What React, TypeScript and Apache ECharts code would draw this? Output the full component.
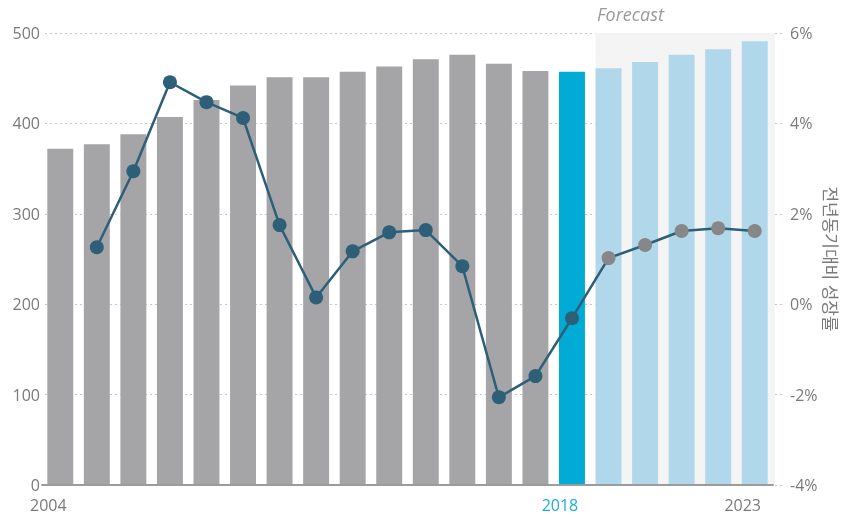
import React, { useEffect, useRef } from "react";
import * as echarts from "echarts";

const years = ["2004","2005","2006","2007","2008","2009","2010","2011","2012","2013","2014","2015","2016","2017","2018","2019","2020","2021","2022","2023"];
const volumes = [372,377,388,407,426,442,451,451,457,463,471,476,466,458,457,461,468,476,482,491];
const growth: (number | null)[] = [null,1.26,2.94,4.91,4.47,4.12,1.75,0.15,1.17,1.59,1.64,0.84,-2.06,-1.59,-0.31,1.02,1.31,1.62,1.68,1.62];
const labeledYears = ["2004", "2018", "2023"];
const highlightYear = "2018";
const forecastStart = "2019";
const forecastEnd = "2023";
const rightAxisTitle = "전년동기대비 성장률";
const forecastLabel = "Forecast";

const FONT = "'Open Sans', 'Noto Sans CJK KR', sans-serif";
const BAR_RATIO = 0.71;

export default function App() {
  const ref = useRef<HTMLDivElement>(null);
  useEffect(() => {
    if (!ref.current) return;
    const chart = echarts.init(ref.current, null, { renderer: "svg" });
    const isForecast = (y: string) => Number(y) >= Number(forecastStart);
    const barColor = (y: string) =>
      y === highlightYear ? "#00acd6" : isForecast(y) ? "#b1d8ea" : "#a5a5a7";
    chart.setOption({
      animation: false,
      grid: [
        { left: 42, right: 70, top: 33, bottom: 32, outerBoundsMode: "none", containLabel: false },
        { left: 45, right: 58, top: 33, bottom: 32, outerBoundsMode: "none", containLabel: false },
      ],
      graphic: [
        {
          type: "text",
          left: 597,
          top: 5,
          style: {
            text: forecastLabel,
            font: `italic 18px ${FONT}`,
            fill: "#9a9a9a",
          },
        },
      ],
      xAxis: [
        {
          type: "category",
          gridIndex: 0,
          data: years,
          z: 3,
          axisLine: { lineStyle: { color: "#9c9c9c", width: 2 } },
          axisTick: { show: false },
          axisLabel: {
            interval: (i: number, v: string) => labeledYears.includes(v),
            color: (v: string) => (v === highlightYear ? "#1aaedb" : "#7a7a7a"),
            fontSize: 16,
            fontFamily: FONT,
            margin: 12,
            padding: [0, 24, 0, 0],
          },
          splitLine: { show: false },
        },
        { type: "value", gridIndex: 1, show: false, min: 0, max: 1 },
      ],
      yAxis: [
        { type: "value", gridIndex: 0, min: 0, max: 500, interval: 100, show: false },
        { type: "value", gridIndex: 0, min: -4, max: 6, interval: 2, show: false },
        {
          type: "value",
          gridIndex: 1,
          min: 0,
          max: 500,
          interval: 100,
          position: "left",
          axisLine: { show: false },
          axisTick: { show: false },
          axisLabel: { color: "#7a7a7a", fontSize: 16, fontFamily: FONT, margin: 5 },
          splitLine: { lineStyle: { color: "#c8c8c8", type: [2, 3], width: 1 } },
        },
        {
          type: "value",
          gridIndex: 1,
          min: -4,
          max: 6,
          interval: 2,
          position: "right",
          axisLine: { show: false },
          axisTick: { show: false },
          splitLine: { show: false },
          axisLabel: {
            color: "#7a7a7a",
            fontSize: 16,
            fontFamily: FONT,
            margin: 5,
            formatter: "{value}%",
          },
          name: rightAxisTitle,
          nameLocation: "middle",
          nameRotate: -90,
          nameGap: 37,
          nameMoveOverlap: false,
          nameTextStyle: { color: "#7a7a7a", fontSize: 17, fontFamily: FONT },
        },
      ],
      series: [
        {
          type: "custom",
          xAxisIndex: 0,
          yAxisIndex: 0,
          silent: true,
          z: 1,
          data: [[years.indexOf(forecastStart), years.indexOf(forecastEnd)]],
          renderItem: (params: any, api: any) => {
            const s = api.coord([api.value(0), 0]);
            const e = api.coord([api.value(1), 0]);
            const bw = api.size([1, 0])[0];
            const cs = params.coordSys;
            const x0 = s[0] - (bw * BAR_RATIO) / 2;
            const x1 = e[0] + bw / 2 + 2;
            return {
              type: "rect",
              shape: { x: x0, y: cs.y, width: x1 - x0, height: cs.height },
              style: { fill: "#f4f4f4" },
            };
          },
        },
        {
          type: "bar",
          xAxisIndex: 0,
          yAxisIndex: 0,
          barWidth: `${BAR_RATIO * 100}%`,
          z: 2,
          data: volumes.map((v, i) => ({ value: v, itemStyle: { color: barColor(years[i]) } })),
        },
        {
          type: "line",
          xAxisIndex: 0,
          yAxisIndex: 1,
          symbol: "circle",
          symbolSize: 14,
          lineStyle: { color: "#2e5f79", width: 2.5 },
          data: growth.map((v, i) => ({
            value: v === null ? "-" : v,
            itemStyle: { color: isForecast(years[i]) ? "#878787" : "#2e5f79" },
          })),
          z: 5,
        },
      ],
    });
    return () => chart.dispose();
  }, []);
  return (
    <div
      ref={ref}
      style={{ position: "fixed", left: 0, top: 0, width: 843, height: 517 }}
    />
  );
}
